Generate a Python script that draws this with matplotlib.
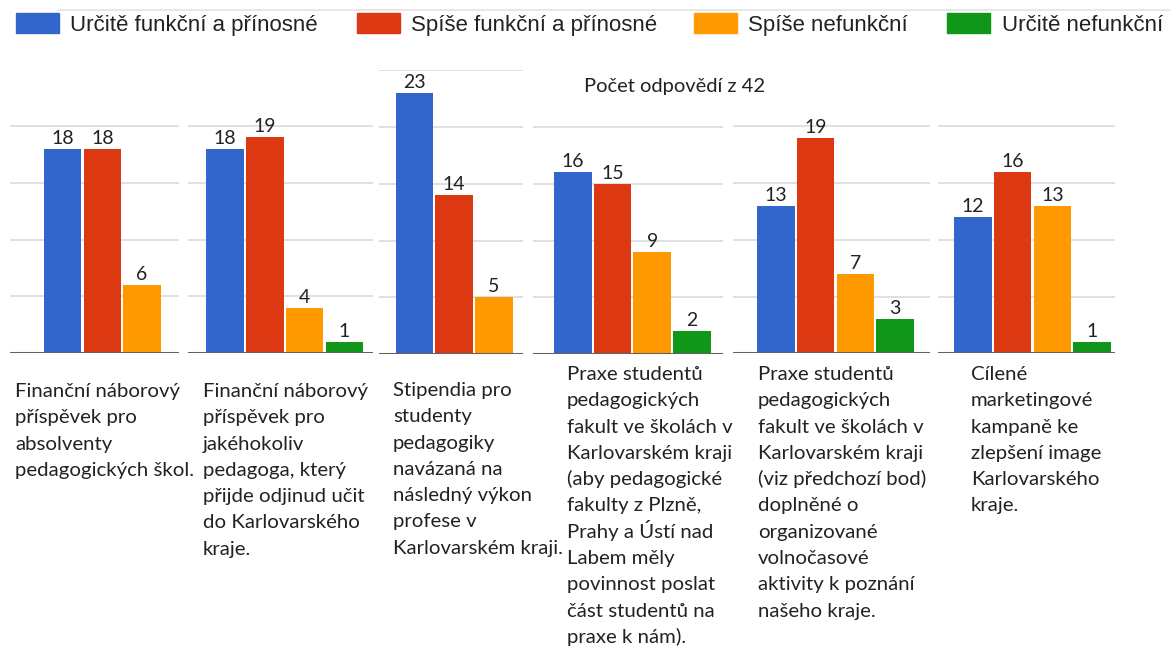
import matplotlib
matplotlib.use("Agg")
import matplotlib.pyplot as plt
from matplotlib.patches import Rectangle
from matplotlib.lines import Line2D

# data
series_names = ["Určitě funkční a přínosné", "Spíše funkční a přínosné",
                "Spíše nefunkční", "Určitě nefunkční"]
urcite_funkcni = [18, 18, 23, 16, 13, 12]
spise_funkcni = [18, 19, 14, 15, 19, 16]
spise_nefunkcni = [6, 4, 5, 9, 7, 13]
urcite_nefunkcni = [0, 1, 0, 2, 3, 1]
categories = [
    "Finanční náborový\npříspěvek pro\nabsolventy\npedagogických škol.",
    "Finanční náborový\npříspěvek pro\njakéhokoliv\npedagoga, který\npřijde odjinud učit\ndo Karlovarského\nkraje.",
    "Stipendia pro\nstudenty\npedagogiky\nnavázaná na\nnásledný výkon\nprofese v\nKarlovarském kraji.",
    "Praxe studentů\npedagogických\nfakult ve školách v\nKarlovarském kraji\n(aby pedagogické\nfakulty z Plzně,\nPrahy a Ústí nad\nLabem měly\npovinnost poslat\nčást studentů na\npraxe k nám).",
    "Praxe studentů\npedagogických\nfakult ve školách v\nKarlovarském kraji\n(viz předchozí bod)\ndoplněné o\norganizované\nvolnočasové\naktivity k poznání\nnašeho kraje.",
    "Cílené\nmarketingové\nkampaně ke\nzlepšení image\nKarlovarského\nkraje.",
]
title = "Počet odpovědí z 42"
colors = ["#3366CC", "#DC3912", "#FF9900", "#109618"]

# layout of the stitched panels (pixels): left, right, first bar centre, baseline
W, H = 1170, 646
panels = [(10, 179, 62.7, 353), (188, 373, 225.2, 353), (379, 523, 414.5, 354),
          (533, 723, 572.8, 354), (733, 930, 776.0, 353.3), (938, 1115, 973.0, 353.3)]
grid_top = [20, 20, 25, 20, 20, 20]
# left edge and first text baseline of each category label
text_pos = [(15, 397), (203, 397), (393, 396), (567, 380), (758, 380), (971, 380)]
line_pitch = 26.3
px_per_unit = 11.35
px_per_slot = 39.7
ymax = 25

fig = plt.figure(figsize=(W / 100, H / 100), dpi=100)

def fx(x):
    return x / W

def fy(y):
    return 1 - y / H

values = list(zip(urcite_funkcni, spise_funkcni, spise_nefunkcni, urcite_nefunkcni))

for i, (x0, x1, c0, base) in enumerate(panels):
    top = base - ymax * px_per_unit
    ax = fig.add_axes([fx(x0), fy(base), (x1 - x0) / W, (base - top) / H])
    ax.set_xlim((x0 - c0) / px_per_slot, (x1 - c0) / px_per_slot)
    ax.set_ylim(0, ymax)
    ax.axis("off")
    for g in range(5, grid_top[i] + 1, 5):
        ax.axhline(g, color="#e0e0e0", lw=1.4, zorder=0)
    bars = ax.bar(range(4), values[i], width=0.945, color=colors, zorder=2)
    ax.bar_label(bars, labels=[str(v) if v > 0 else "" for v in values[i]],
                 padding=1.5, fontsize=14, family="Lato", color="#222222")
    ax.axhline(0, color="#616161", lw=2.2, zorder=3)
    tx, ty = text_pos[i]
    for k, line in enumerate(categories[i].split("\n")):
        fig.text(fx(tx), fy(ty + k * line_pitch), line, ha="left", va="baseline",
                 fontsize=14.7, family="Lato", color="#222222")

fig.text(fx(675), fy(92), title, ha="center", va="baseline", fontsize=14.5,
         family="Lato", color="#222222")

# legend strip
fig.add_artist(Line2D([fx(59), fx(1170)], [fy(10), fy(10)], color="#e3e3e3", lw=1.2))
leg_sq = [16, 357, 694, 947]
leg_tx = [70, 410.7, 748, 1001.7]
for name, c, sx, tx in zip(series_names, colors, leg_sq, leg_tx):
    fig.add_artist(Rectangle((fx(sx), fy(33.3)), 43 / W, 20.6 / H, color=c,
                             transform=fig.transFigure))
    fig.text(fx(tx), fy(31), name, ha="left", va="baseline", fontsize=16,
             family="Liberation Sans", color="#222222")

fig.savefig("out.png", dpi=100, facecolor="white")
